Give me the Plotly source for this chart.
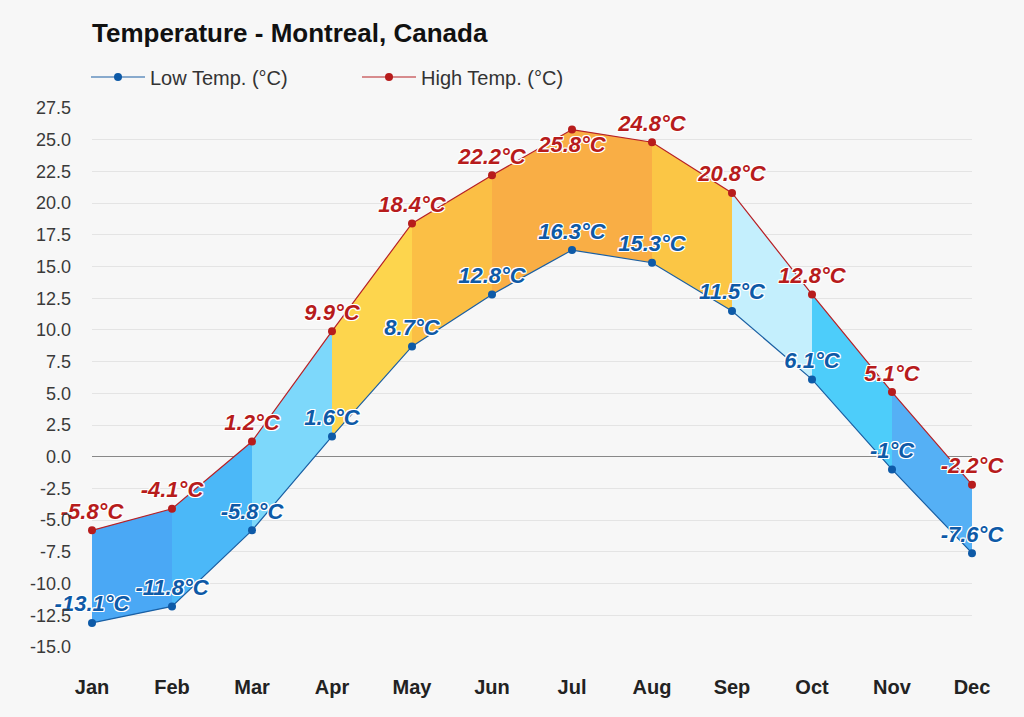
import plotly.graph_objects as go

months = ["Jan", "Feb", "Mar", "Apr", "May", "Jun", "Jul", "Aug", "Sep", "Oct", "Nov", "Dec"]
low_temp = [-13.1, -11.8, -5.8, 1.6, 8.7, 12.8, 16.3, 15.3, 11.5, 6.1, -1.0, -7.6]
high_temp = [-5.8, -4.1, 1.2, 9.9, 18.4, 22.2, 25.8, 24.8, 20.8, 12.8, 5.1, -2.2]
low_labels = ["-13.1°C", "-11.8°C", "-5.8°C", "1.6°C", "8.7°C", "12.8°C", "16.3°C", "15.3°C", "11.5°C", "6.1°C", "-1°C", "-7.6°C"]
high_labels = ["-5.8°C", "-4.1°C", "1.2°C", "9.9°C", "18.4°C", "22.2°C", "25.8°C", "24.8°C", "20.8°C", "12.8°C", "5.1°C", "-2.2°C"]
segment_colors = ["#4aa8f5", "#4bb8f8", "#7dd8fb", "#fdd54d", "#fbbf45", "#f9ae45",
                  "#f9ae45", "#fbc645", "#c4effd", "#4dcdfa", "#55b0f5"]

idx = list(range(len(months)))
FONT = "'Liberation Sans', Arial, sans-serif"
WHITE_OUTLINE = ("-1px -1px 0 #fff, 1px -1px 0 #fff, -1px 1px 0 #fff, 1px 1px 0 #fff, "
                 "0 -1px 0 #fff, 0 1px 0 #fff, -1px 0 0 #fff, 1px 0 0 #fff")

# the July high label sits below its point in the reference (collision avoidance)
high_positions = ["bottom center" if i == 6 else "top center" for i in idx]

fig = go.Figure()

for i, col in enumerate(segment_colors):
    xs = [idx[i], idx[i + 1], idx[i + 1], idx[i], idx[i]]
    ys = [high_temp[i], high_temp[i + 1], low_temp[i + 1], low_temp[i], high_temp[i]]
    fig.add_trace(go.Scatter(x=xs, y=ys, mode="lines", fill="toself", fillcolor=col,
                             line=dict(width=0), hoverinfo="skip", showlegend=False))

fig.add_trace(go.Scatter(
    x=idx, y=low_temp, mode="lines+markers+text", name="Low Temp. (°C)",
    line=dict(color="#1a5fa3", width=1.2), marker=dict(color="#0e5aa7", size=8),
    text=low_labels, textposition="top center", cliponaxis=False,
    textfont=dict(family=FONT, size=22, color="#0e5aa7", weight="bold", style="italic",
                  shadow=WHITE_OUTLINE),
))
fig.add_trace(go.Scatter(
    x=idx, y=high_temp, mode="lines+markers+text", name="High Temp. (°C)",
    line=dict(color="#b72025", width=1.2), marker=dict(color="#b71c1c", size=8),
    text=high_labels, textposition=high_positions, cliponaxis=False,
    textfont=dict(family=FONT, size=22, color="#b71c1c", weight="bold", style="italic",
                  shadow=WHITE_OUTLINE),
))

fig.update_layout(
    width=1024, height=717,
    paper_bgcolor="#f7f7f7", plot_bgcolor="#f7f7f7",
    margin=dict(l=92, r=52, t=108, b=70, autoexpand=False),
    title=dict(text="<b>Temperature - Montreal, Canada</b>", x=92 / 1024, xanchor="left",
               xref="container", y=1 - 33 / 717, yanchor="middle", yref="container",
               font=dict(family=FONT, size=26, color="#111")),
    legend=dict(orientation="h", x=86 / 1024, xref="container", y=1 - 77 / 717, yref="container",
                xanchor="left", yanchor="middle",
                font=dict(family=FONT, size=20, color="#333"),
                bgcolor="rgba(0,0,0,0)", itemwidth=54, entrywidth=202, traceorder="normal"),
    showlegend=True,
    xaxis=dict(range=[0, 11], tickmode="array", tickvals=idx, ticktext=[f"<b>{m}</b>" for m in months],
               showgrid=False, zeroline=False, showline=False, ticks="", automargin=False,
               tickfont=dict(family=FONT, size=20, color="#222"), ticklabelstandoff=26),
    yaxis=dict(range=[-15, 27.5], tickmode="array",
               tickvals=[-15 + 2.5 * k for k in range(18)],
               ticktext=[f"{-15 + 2.5 * k:.1f}" for k in range(18)],
               showgrid=True, gridcolor="#e4e4e4", gridwidth=1, automargin=False,
               zeroline=True, zerolinecolor="#888", zerolinewidth=1,
               showline=False, ticks="", ticklabelstandoff=20,
               tickfont=dict(family=FONT, size=18, color="#3a3a3a")),
)

fig.write_html("out.html", config={"displayModeBar": False},
               post_script="document.body.style.margin='0';document.body.style.background='#f7f7f7';")
